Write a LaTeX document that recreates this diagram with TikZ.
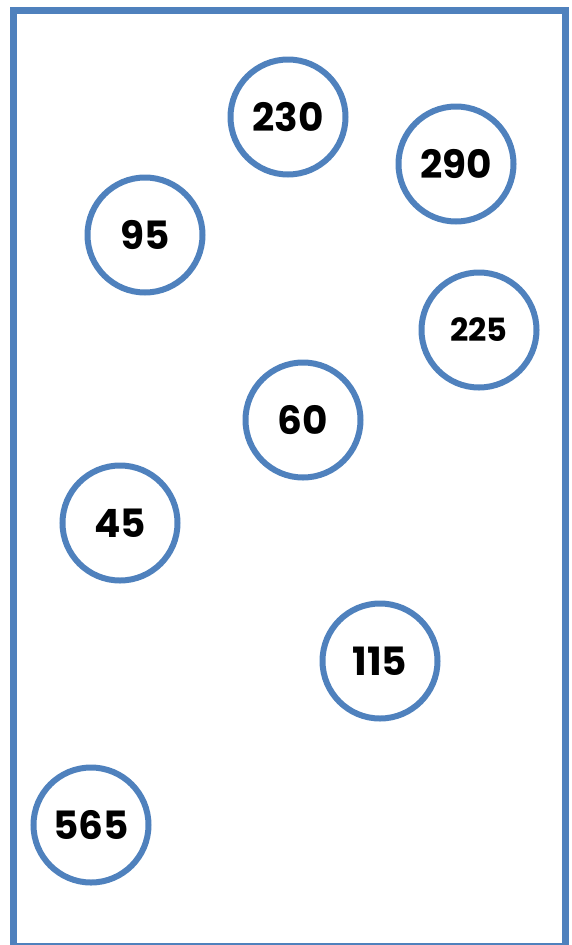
\documentclass[tikz,border=0pt]{standalone}
\usepackage{fontspec}
\usepackage{tikz}
\newfontfamily\numfont{Poppins}
\definecolor{ringblue}{HTML}{4F81BD}
\tikzset{
  ring/.style={circle,draw=ringblue,line width=6pt,minimum size=115pt,inner sep=0pt},
  big/.style={font=\numfont\bfseries\fontsize{39}{42}\selectfont},
  small/.style={font=\numfont\bfseries\fontsize{32}{35}\selectfont}
}
\begin{document}
\begin{tikzpicture}[x=1pt,y=-1pt]
	\useasboundingbox (0,0) rectangle (571,945);
	\draw[line width=7pt,draw=ringblue] (13.5,946) -- (13.5,10.5) -- (565.5,10.5) -- (565.5,946) -- cycle;
	\node[ring,big] (n230) at (288,117) {230};
	\node[ring,big] (n290) at (456,164) {290};
	\node[ring,big] (n95) at (145,235) {95};
	\node[ring,small] (n225) at (479,330) {225};
	\node[ring,big] (n60) at (303,420) {60};
	\node[ring,big] (n45) at (120,523) {45};
	\node[ring,big] (n115) at (380,661) {115};
	\node[ring,big] (n565) at (91,825) {565};
\end{tikzpicture}
\end{document}
